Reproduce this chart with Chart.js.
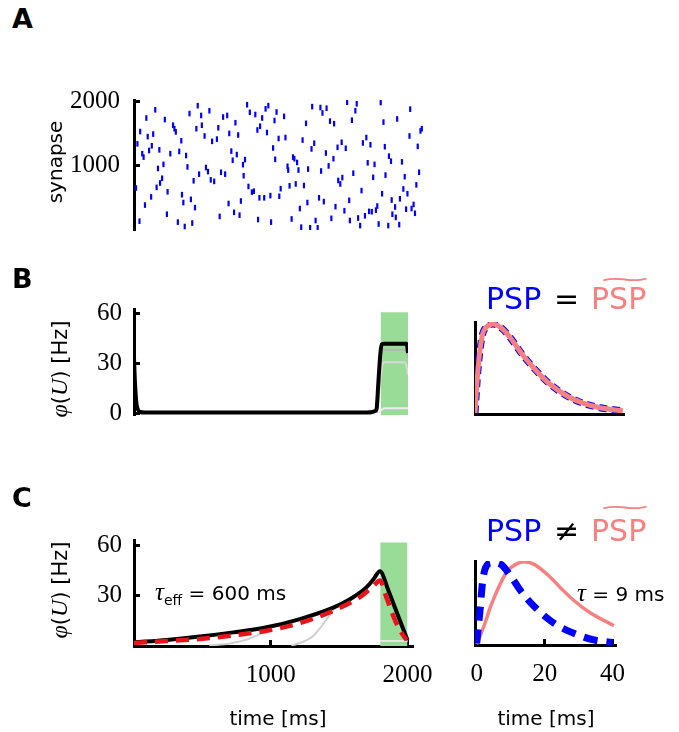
<!DOCTYPE html>
<html>
<head>
<meta charset="utf-8">
<script src="https://cdn.jsdelivr.net/npm/chart.js@4.4.1/dist/chart.umd.min.js"></script>
<style>
  body { margin:0; width:679px; height:732px; background:#fff; position:relative; overflow:hidden; font-family:'DejaVu Sans', sans-serif; }
  canvas { position:absolute; }
  .t { position:absolute; white-space:nowrap; line-height:1; color:#000; }
  .c { transform:translate(-50%,-50%); }
  .rot { transform:translate(-50%,-50%) rotate(-90deg); }
  .m { font-family:'Liberation Serif', serif; font-style:italic; }
  .lbl { font-size:27px; font-weight:bold; }
  .psp { font-size:30px; }
  .tilde { position:absolute; font-size:30px; line-height:1; color:#f88080; transform-origin:0 0; transform:scale(2.3,0.7); }
</style>
</head>
<body>
<canvas id="chartA" width="440" height="200" style="left:0;top:65px"></canvas>
<canvas id="chartB" width="440" height="172" style="left:0;top:276px"></canvas>
<canvas id="chartBk" width="239" height="160" style="left:440px;top:290px"></canvas>
<canvas id="chartC" width="460" height="225" style="left:0;top:507px"></canvas>
<canvas id="chartCk" width="239" height="203" style="left:440px;top:529px"></canvas>

<div class="t lbl" style="left:12px;top:5px">A</div>
<div class="t lbl" style="left:12px;top:265px">B</div>
<div class="t lbl" style="left:12px;top:484px">C</div>

<div class="t rot" style="left:55px;top:162px;font-size:20px">synapse</div>
<div class="t rot" style="left:59px;top:369px;font-size:21px"><span class="m" style="font-size:24px">φ</span>(<span class="m" style="font-size:24px">U</span>) [Hz]</div>
<div class="t rot" style="left:59px;top:590px;font-size:21px"><span class="m" style="font-size:24px">φ</span>(<span class="m" style="font-size:24px">U</span>) [Hz]</div>

<div class="t psp" style="left:486px;top:284px;color:#0000ff">PSP</div>
<div class="t psp" style="left:554px;top:284px">=</div>
<div class="t psp" style="left:591px;top:284px;color:#f88080">PSP</div>
<div class="tilde" style="left:596px;top:268px">~</div>

<div class="t psp" style="left:486px;top:516px;color:#0000ff">PSP</div>
<div class="t psp" style="left:554px;top:516px">≠</div>
<div class="t psp" style="left:591px;top:516px;color:#f88080">PSP</div>
<div class="tilde" style="left:596px;top:496px">~</div>

<div class="t" style="left:155px;top:579px;font-size:20px"><span class="m" style="font-size:25px">τ</span><span style="font-size:14px;position:relative;top:5px">eff</span> = 600 ms</div>
<div class="t" style="left:577px;top:580px;font-size:20px"><span class="m" style="font-size:25px">τ</span> = 9 ms</div>

<div class="t c" style="left:278px;top:718px;font-size:20px">time [ms]</div>
<div class="t c" style="left:546px;top:718px;font-size:20px">time [ms]</div>

<script>
// A: input spike raster (time in ms, synapse index)
const rasterTime = [
  155,90,45,100,140,25,130,110,60,70,185,225,285,295,305,345,405,465,490,550,
  455,495,515,570,605,615,650,680,695,740,760,825,845,885,935,960,980,1040,1025,920,
  900,970,1055,1015,1030,265,330,380,215,175,390,525,540,475,435,560,585,635,665,710,
  750,720,795,810,800,205,190,165,15,245,125,80,350,360,415,445,240,320,370,425,
  40,625,690,730,770,780,835,860,875,915,950,995,1060,905,1000,1070,
  1095,1105,1300,1360,1375,1405,1255,1430,1460,1555,1625,1615,1590,1800,1820,1920,2015,2100,2090,2010,
  2070,1230,1315,1295,1515,1485,1545,1670,1695,1725,1830,1400,1455,1160,1170,1190,1120,1125,1200,1270,
  1365,1420,1705,1755,1860,1875,1955,1600,1520,1490,1505,1745,1835,1975,2080,1135,1180,1240,1660,1810,
  1965,1995,2060,1350,1385,1265,1210,1470,1570,1535,1775,1765,1715,1735,1685,1635,1575,1650,1880,1905,
  1940,1985,2025,2040,2050,1885,1910,1855,1935,1785,1440,1325,1150,1220,1285,1340
];
const rasterSynapse = [
  1875,1745,1530,1450,1490,1335,1305,1230,1180,1125,1240,1720,1630,1575,1525,1385,1815,1940,1785,1860,
  1575,1630,1460,1375,1410,1590,1760,1785,1500,1670,1475,1955,1835,1800,1745,1890,1940,1840,1705,1615,
  1555,1515,1420,1270,1090,1180,1215,1150,1010,945,970,960,895,855,750,765,740,885,855,1220,
  1165,1075,1005,1085,830,790,715,645,635,575,495,365,530,405,455,325,220,95,25,80,
  110,185,390,250,205,430,660,570,585,480,480,515,505,135,95,625,
  1770,1435,1925,1910,1825,1900,1660,1695,1655,1995,1970,1860,1710,1990,1680,1730,1885,1575,1540,1460,
  1295,1395,1345,1255,1360,1280,1265,1350,1435,1320,1290,1190,1100,1125,1100,1040,980,920,920,935,
  905,985,1035,1010,1140,1060,1050,870,800,755,700,805,840,815,885,670,700,675,595,545,
  620,545,685,480,420,405,310,340,440,275,350,285,265,260,195,160,120,40,445,335,
  465,300,310,375,235,220,170,40,55,65,155,120,145,15,5,5
];
const synapseTicks = [1000, 2000];

// B: output rate, PSP matched
const bTime = [0,5,10,15,20,30,45,80,1700,1740,1760,1771,1783,1798,1808,1830,1990,1996,2000];
const bRate = [33,22,14,8,4.5,1.8,0.6,0.3,0.3,0.6,1.2,2.5,17.5,35.5,41.2,41.5,41.5,39,36];
const bGreyMidTime = [1765,1785,1800,1815,1990,2000];
const bGreyMidRate = [0,20,35,38,38,33];
const bGreyLightTime = [1775,1795,1812,1825,1975,1992,2000];
const bGreyLightRate = [0,16,28.5,30.5,30.5,27,23];
const bGreyLowTime = [1790,1812,1830,2000];
const bGreyLowRate = [0,2.3,2.8,2.8];
const rateTicksB = [0, 30, 60];

// target window (ms) and its height per panel
const windowTime = [1800, 2000];
const windowTopB = 60.5;
const windowTopC = 61.5;

// B right: PSP kernel and its fit
const pspBTime = [0,0.8,1.9,3.2,4.9,7.3,9.5,13,16.8,20.3,24.9,29.2,33.8,40];
const pspBVal = [0.01,0.49,0.86,0.97,1.0,0.95,0.85,0.65,0.47,0.33,0.2,0.12,0.07,0.035];
const pspFitBVal = [0.01,0.49,0.86,0.97,1.0,0.95,0.85,0.65,0.47,0.33,0.2,0.12,0.07,0.035];

// C: output rate, PSP mismatched
const cTime = [0,240,480,726,970,1213,1457,1579,1701,1750,1798,1860,1900,1945,2000];
const cRate = [2.2,3.6,5.6,8.1,11.1,16,22.8,27.8,35,39.5,44.4,33,24.5,15,3.5];
const cFitTime = [0,240,480,726,970,1213,1457,1652,1750,1798,1847,1896,1944,1993];
const cFitRate = [1.8,2.9,4.2,6.3,9.1,13.6,20.9,29.1,35.6,38.9,28.6,17.8,9.4,3.5];
const cGrey1Time = [550,700,850,1000];
const cGrey1Rate = [0.3,1.5,4.5,10.5];
const cGrey2Time = [1150,1200,1310,1410,1480];
const cGrey2Rate = [0.2,1.5,6,16,24];
const cGreyLowTime = [1800,2000];
const cGreyLowRate = [3,3];
const rateTicksC = [30, 60];
const timeTicksC = [1000, 2000];

// C right: true PSP vs fitted PSP
const pspCTime = [0,1.0,1.7,2.6,4.6,7.1,10,13.4,17.9,22.7,28.6,34.5,40];
const pspCVal = [0.02,0.42,0.74,0.92,0.98,0.96,0.82,0.62,0.42,0.26,0.14,0.06,0.03];
const fitCTime = [0,2.1,4.1,6.6,9.0,11.5,13.9,16.9,20.8,24.7,28.6,33.5,40.4];
const fitCVal = [0.01,0.22,0.46,0.70,0.88,0.96,0.99,0.96,0.84,0.68,0.53,0.38,0.23];
const kernelTicks = [0, 20, 40];

const BLUE = '#0000ff';
const SALMON = '#f88080';
const RED = '#e8141a';
const GREEN = '#98dc98';

Chart.defaults.font.family = "'DejaVu Sans', sans-serif";

function pts(xs, ys) {
  return xs.map((x, i) => ({x: x, y: ys[i]}));
}

function line(xs, ys, color, width, dash) {
  return {
    data: pts(xs, ys), borderColor: color, borderWidth: width, borderDash: dash || [],
    pointRadius: 0, fill: false, cubicInterpolationMode: 'monotone'
  };
}

function windowBox(top) {
  return {
    data: pts(windowTime, [top, top]), borderWidth: 0, pointRadius: 0,
    backgroundColor: GREEN, fill: 'start'
  };
}

function axis(min, max, tickVals, size, labels, pad) {
  return {
    type: 'linear', min: min, max: max,
    afterBuildTicks: s => { s.ticks = tickVals.map(v => ({value: v})); },
    afterFit: s => { if (s.isHorizontal()) s.height = size; else s.width = size; },
    border: {display: true, color: '#000', width: 3},
    grid: {display: true, drawOnChartArea: false, drawTicks: true, tickLength: -6, tickWidth: 3, tickColor: '#000'},
    ticks: {
      display: labels, color: '#000', padding: pad, maxRotation: 0, autoSkip: false,
      font: {family: "'Liberation Serif', serif", size: 25},
      callback: v => String(v)
    }
  };
}

function base(padding) {
  return {
    responsive: false, animation: false, events: [],
    layout: {padding: padding},
    plugins: {legend: {display: false}, tooltip: {enabled: false}}
  };
}

// A
new Chart(document.getElementById('chartA'), {
  type: 'scatter',
  data: {datasets: [{
    data: pts(rasterTime, rasterSynapse),
    pointStyle: 'line', rotation: 90, radius: 2.8, borderWidth: 2.2,
    borderColor: BLUE, backgroundColor: BLUE
  }]},
  options: Object.assign(base({left: 0, top: 32, right: 12, bottom: 35}), {
    scales: {
      x: {type: 'linear', display: false, min: 0, max: 2145},
      y: axis(-30, 2030, synapseTicks, 134, true, 20)
    }
  })
});

// B left
new Chart(document.getElementById('chartB'), {
  type: 'line',
  data: {datasets: [
    line(bTime, bRate, '#000', 4),
    line(bGreyMidTime, bGreyMidRate, '#b4b4b4', 2),
    line(bGreyLightTime, bGreyLightRate, '#d8d8d8', 2),
    line(bGreyLowTime, bGreyLowRate, '#ececec', 2),
    windowBox(windowTopB)
  ]},
  options: Object.assign(base({left: 0, top: 32, right: 32, bottom: 33}), {
    scales: {
      x: {type: 'linear', display: false, min: 0, max: 2000},
      y: axis(-1.2, 62.4, rateTicksB, 134, true, 18)
    }
  })
});

// B right
new Chart(document.getElementById('chartBk'), {
  type: 'line',
  data: {datasets: [
    line(pspBTime, pspFitBVal, SALMON, 5),
    line(pspBTime, pspBVal, BLUE, 7, [8, 5])
  ]},
  options: Object.assign(base({left: 0, top: 32, right: 55, bottom: 0}), {
    scales: {
      x: axis(0, 40.3, [], 36, false, 0),
      y: axis(0, 1.022, [], 35, false, 0)
    }
  })
});

// C left
new Chart(document.getElementById('chartC'), {
  type: 'line',
  data: {datasets: [
    line(cFitTime, cFitRate, RED, 4.5, [13, 8]),
    line(cTime, cRate, '#000', 4),
    line(cGrey1Time, cGrey1Rate, '#cfcfcf', 2),
    line(cGrey2Time, cGrey2Rate, '#cfcfcf', 2),
    line(cGreyLowTime, cGreyLowRate, '#e6e6e6', 2),
    windowBox(windowTopC)
  ]},
  options: Object.assign(base({left: 0, top: 32, right: 47, bottom: 0}), {
    scales: {
      x: axis(0, 2040, timeTicksC, 86, true, 20),
      y: axis(0, 63, rateTicksC, 134, true, 18)
    }
  })
});

// C right
new Chart(document.getElementById('chartCk'), {
  type: 'line',
  data: {datasets: [
    line(pspCTime, pspCVal, BLUE, 7, [14, 9]),
    line(fitCTime, fitCVal, SALMON, 3.5)
  ]},
  options: Object.assign(base({left: 0, top: 32, right: 63, bottom: 0}), {
    scales: {
      x: axis(-0.5, 41, kernelTicks, 87, true, 20),
      y: axis(0, 1.0, [], 35, false, 0)
    }
  })
});
</script>
</body>
</html>
